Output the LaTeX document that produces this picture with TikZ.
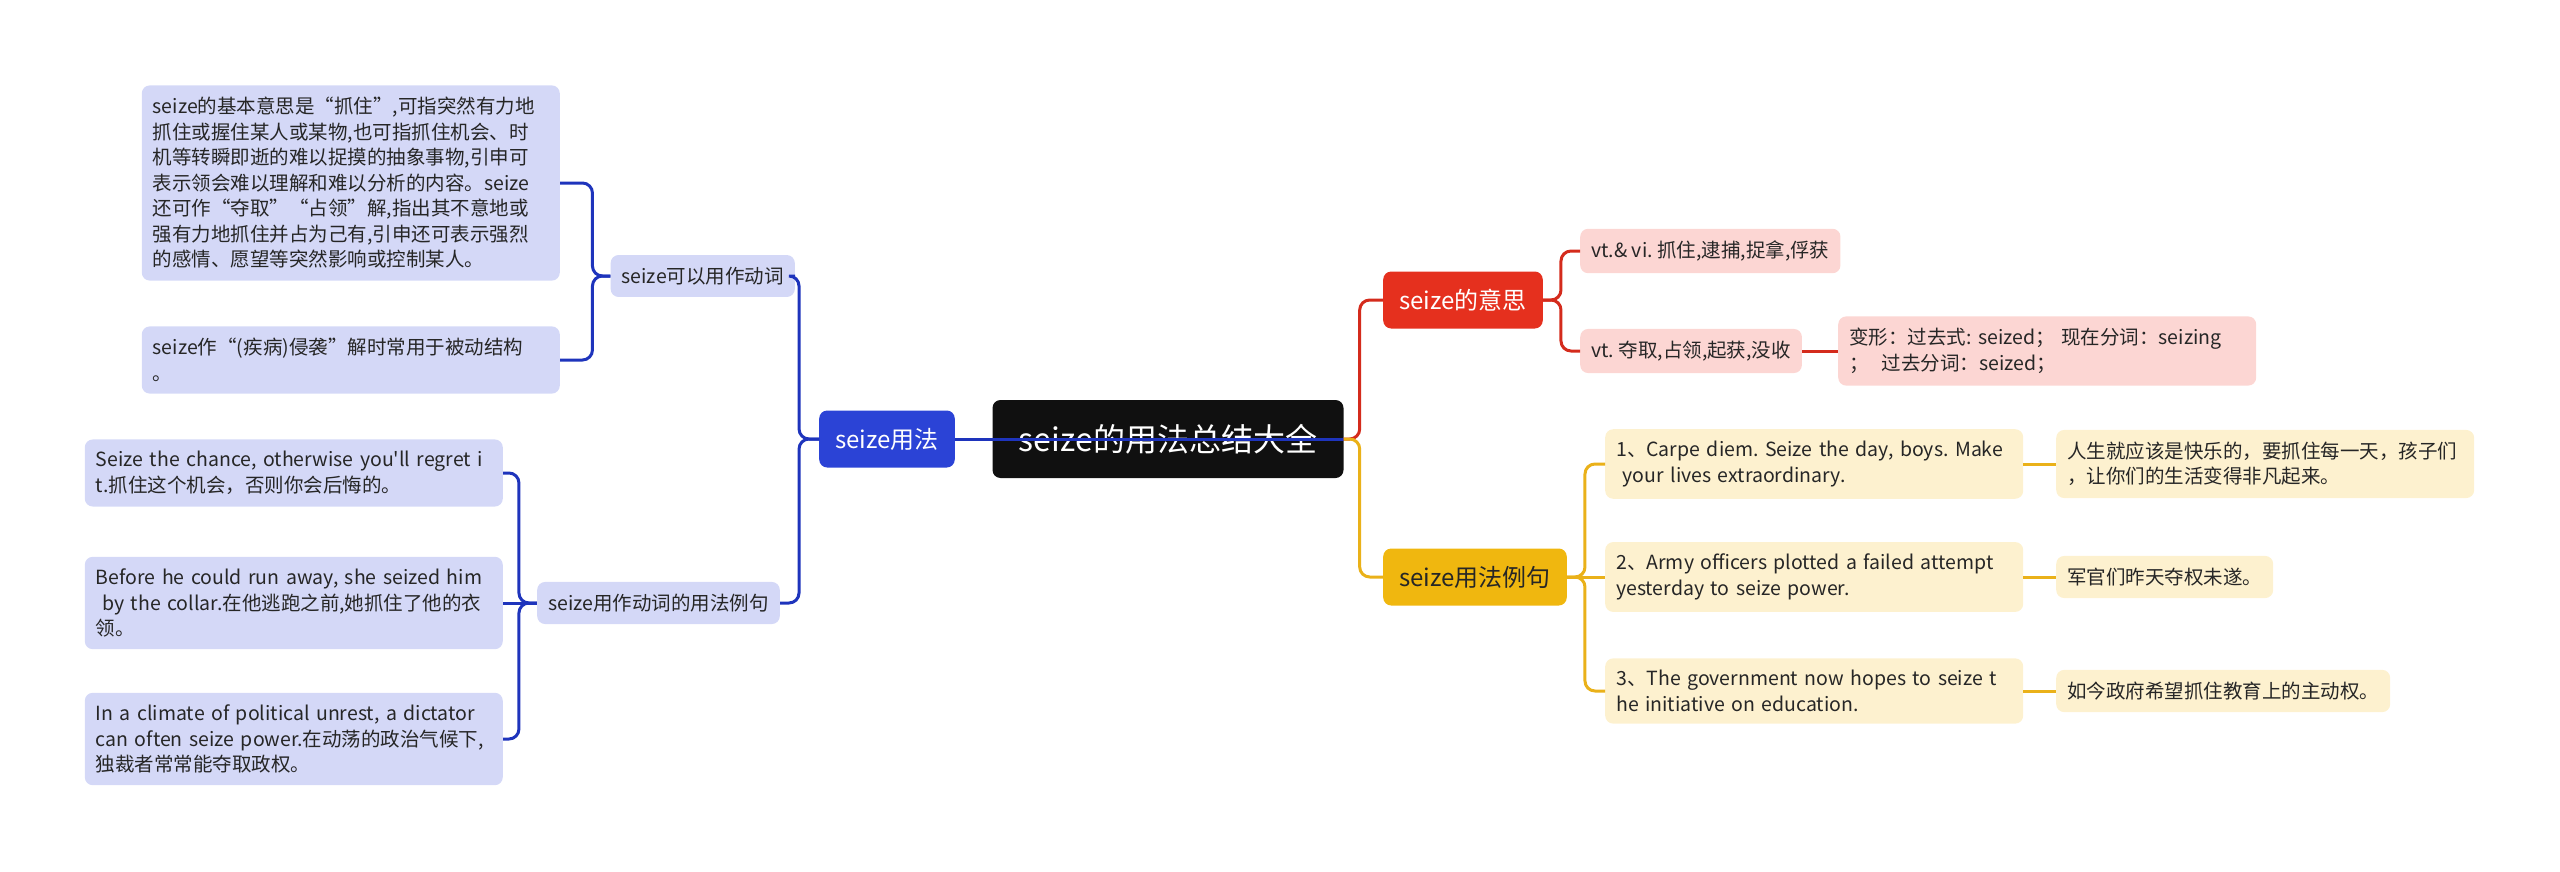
\documentclass[tikz,border=0pt]{standalone}
\usepackage{fontspec}
\newfontfamily\cjk{Noto Sans CJK SC}
\usepackage{xcolor}
\usetikzlibrary{positioning}
\frenchspacing
\hyphenpenalty=10000

\definecolor{rootc}{HTML}{101010}
\definecolor{bluec}{HTML}{2B43D6}
\definecolor{bluel}{HTML}{1E34BC}
\definecolor{lavc}{HTML}{D4D8F7}
\definecolor{redc}{HTML}{E5301E}
\definecolor{redl}{HTML}{D42B1C}
\definecolor{pinkc}{HTML}{FCD6D3}
\definecolor{goldc}{HTML}{F0B70F}
\definecolor{goldl}{HTML}{EAB119}
\definecolor{creamc}{HTML}{FDF1CF}
\definecolor{txt}{HTML}{262626}

\begin{document}
\begin{tikzpicture}[x=1pt, y=-1pt,
    topic/.style={rounded corners=8pt, inner xsep=16pt, minimum height=57pt, font=\cjk\fontsize{24}{30}\selectfont},
    leaf/.style={rounded corners=8pt, text=txt, inner xsep=11pt, inner ysep=12pt, align=left, font=\cjk\fontsize{19.5}{25.5}\selectfont},
    wide/.style={text width=396pt},
    bline/.style={draw=bluel, line width=3pt, rounded corners=10pt},
    rline/.style={draw=redl, line width=3pt, rounded corners=10pt},
    yline/.style={draw=goldl, line width=3pt, rounded corners=10pt}]
\useasboundingbox (0,0) rectangle (2560,872);

% centre and main branches
\node[fill=rootc, text=white, rounded corners=8pt, minimum width=351pt, minimum height=78pt, font=\cjk\fontsize{32}{38}\selectfont] (root) at (1168, 439) {seize的用法总结大全};
\node[topic, fill=bluec, text=white] (usage) at (887, 439) {seize用法};
\node[topic, fill=redc, text=white] (mean) at (1463, 300) {seize的意思};
\node[topic, fill=goldc, text=txt] (ex) at (1475, 577) {seize用法例句};

% left side
\node[leaf, fill=lavc, anchor=east] (verb) at (795, 276) {seize可以用作动词};
\node[leaf, fill=lavc, anchor=east] (vex) at (780, 603) {seize用作动词的用法例句};
\node[leaf, wide, fill=lavc, anchor=east] (a1) at (560, 183) {seize的基本意思是“抓住”,可指突然有力地\\抓住或握住某人或某物,也可指抓住机会、时\\机等转瞬即逝的难以捉摸的抽象事物,引申可\\表示领会难以理解和难以分析的内容。seize\\还可作“夺取”“占领”解,指出其不意地或\\强有力地抓住并占为己有,引申还可表示强烈\\的感情、愿望等突然影响或控制某人。};
\node[leaf, wide, fill=lavc, anchor=east] (a2) at (560, 360) {seize作“(疾病)侵袭”解时常用于被动结构\\。};
\node[leaf, wide, fill=lavc, anchor=east] (b1) at (503, 473) {Seize the chance, otherwise you'll regret i\\t.抓住这个机会，否则你会后悔的。};
\node[leaf, wide, fill=lavc, anchor=east] (b2) at (503, 603) {Before he could run away, she seized him\\~by the collar.在他逃跑之前,她抓住了他的衣\\领。};
\node[leaf, wide, fill=lavc, anchor=east] (b3) at (503, 739) {In a climate of political unrest, a dictator\\can often seize power.在动荡的政治气候下,\\独裁者常常能夺取政权。};

% right side, meanings
\node[leaf, fill=pinkc, anchor=west] (m1) at (1580, 251) {vt.\& vi. 抓住,逮捕,捉拿,俘获};
\node[leaf, fill=pinkc, anchor=west] (m2) at (1580, 351) {vt. 夺取,占领,起获,没收};
\node[leaf, wide, fill=pinkc, anchor=west] (m3) at (1838, 351) {变形：过去式: seized； 现在分词：seizing\\；~~过去分词：seized；};

% right side, examples
\node[leaf, wide, fill=creamc, anchor=west] (s1) at (1605, 464) {1、Carpe diem. Seize the day, boys. Make\\~your lives extraordinary.};
\node[leaf, wide, fill=creamc, anchor=west] (s2) at (1605, 577) {2、Army officers plotted a failed attempt\\yesterday to seize power.};
\node[leaf, wide, fill=creamc, anchor=west] (s3) at (1605, 691) {3、The government now hopes to seize t\\he initiative on education.};
\node[leaf, wide, fill=creamc, anchor=west] (t1) at (2056, 464) {人生就应该是快乐的，要抓住每一天，孩子们\\，让你们的生活变得非凡起来。};
\node[leaf, fill=creamc, anchor=west] (t2) at (2056, 577) {军官们昨天夺权未遂。};
\node[leaf, fill=creamc, anchor=west] (t3) at (2056, 691) {如今政府希望抓住教育上的主动权。};

% connectors
\draw[bline] (root.east) -- (usage.east);
\draw[bline] (usage.west) -- ++(-20,0) |- (verb.east);
\draw[bline] (usage.west) -- ++(-20,0) |- (vex.east);
\draw[bline] (verb.west) -- ++(-18,0) |- (a1.east);
\draw[bline] (verb.west) -- ++(-18,0) |- (a2.east);
\draw[bline] (vex.west) -- ++(-18,0) |- (b1.east);
\draw[bline] (vex.west) -- (b2.east);
\draw[bline] (vex.west) -- ++(-18,0) |- (b3.east);

\draw[rline] (root.east) -- ++(16,0) |- (mean.west);
\draw[yline] (root.east) -- ++(16,0) |- (ex.west);

\draw[rline] (mean.east) -- ++(18,0) |- (m1.west);
\draw[rline] (mean.east) -- ++(18,0) |- (m2.west);
\draw[rline] (m2) -- (m3);

\draw[yline] (ex.east) -- ++(18,0) |- (s1.west);
\draw[yline] (ex.east) -- (s2.west);
\draw[yline] (ex.east) -- ++(18,0) |- (s3.west);
\draw[yline] (s1) -- (t1);
\draw[yline] (s2) -- (t2);
\draw[yline] (s3) -- (t3);
\end{tikzpicture}
\end{document}
